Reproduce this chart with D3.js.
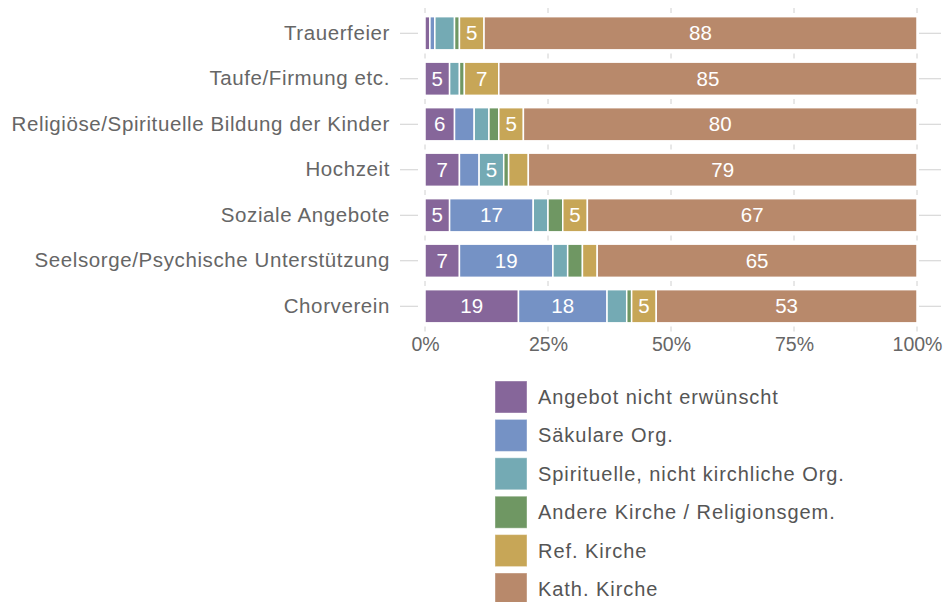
<!DOCTYPE html>
<html><head><meta charset="utf-8">
<script src="https://cdn.jsdelivr.net/npm/d3@7"></script>
<style>body{margin:0;background:#fff}svg{display:block;font-family:"Liberation Sans",Arial,sans-serif}</style>
</head><body>
<svg id="chart" width="946" height="602"></svg>
<script>
const categories = ["Trauerfeier","Taufe/Firmung etc.","Religiöse/Spirituelle Bildung der Kinder","Hochzeit","Soziale Angebote","Seelsorge/Psychische Unterstützung","Chorverein"];
const seriesNames = ["Angebot nicht erwünscht","Säkulare Org.","Spirituelle, nicht kirchliche Org.","Andere Kirche / Religionsgem.","Ref. Kirche","Kath. Kirche"];
const angebotNicht = [1,5,6,7,5,7,19];
const saekulare   = [1,0,4,4,17,19,18];
const spirituelle = [4,2,3,5,3,3,4];
const andere      = [1,1,2,1,3,3,1];
const refKirche   = [5,7,5,4,5,3,5];
const kathKirche  = [88,85,80,79,67,65,53];
const xTicks = [0,25,50,75,100];
const colors = ["#86669a","#7592c5","#74aab4","#6f9763","#c7a657","#b8896b"];

const series = [angebotNicht,saekulare,spirituelle,andere,refKirche,kathKirche];
const rows = categories.map((c,i)=>{const r={cat:c};seriesNames.forEach((s,j)=>r[s]=series[j][i]);return r;});
const stacked = d3.stack().keys(seriesNames)(rows);

const svg = d3.select("#chart");
const x = d3.scaleLinear().domain([0,100]).range([425,917]);
const y = d3.scaleBand().domain(categories).range([10.5,329]).paddingInner(0.27).paddingOuter(0.135);
const color = d3.scaleOrdinal().domain(seriesNames).range(colors);
const grey = "#d0d0d0", textCol = "#666";

// short grid ticks between rows
const bounds = d3.range(categories.length+1).map(i=>y.range()[0]+i*y.step());
const gg = svg.append("g");
xTicks.forEach(t=>bounds.forEach(b=>{
  gg.append("line").attr("x1",x(t)).attr("x2",x(t)).attr("y1",b-2.5).attr("y2",b+2.5).attr("stroke",grey).attr("stroke-width",1);
}));

// y axis (left) and right ticks
const yAxis = d3.axisLeft(y).tickSize(18).tickPadding(10);
const ya = svg.append("g").attr("transform","translate(418,0)").call(yAxis);
ya.select(".domain").remove();
ya.selectAll("line").attr("stroke",grey);
ya.selectAll("text").attr("fill",textCol).style("font-size","20.5px").style("letter-spacing","0.6px").style("font-family","inherit");
const yr = svg.append("g").attr("transform","translate(919,0)").call(d3.axisRight(y).tickSize(22).tickFormat(""));
yr.select(".domain").remove();
yr.selectAll("line").attr("stroke",grey);

// bars
const layer = svg.append("g").selectAll("g").data(stacked).join("g").attr("fill",d=>color(d.key));
layer.selectAll("rect").data(d=>d.map(v=>({v,key:d.key}))).join("rect")
  .attr("x",d=>x(d.v[0])).attr("width",d=>Math.max(0,x(d.v[1])-x(d.v[0])))
  .attr("y",d=>y(d.v.data.cat)).attr("height",y.bandwidth())
  .attr("stroke","#fff").attr("stroke-width",1.5);
layer.selectAll("text").data(d=>d.map(v=>({v,key:d.key})).filter(d=>d.v[1]-d.v[0]>=5)).join("text")
  .attr("x",d=>(x(d.v[0])+x(d.v[1]))/2).attr("y",d=>y(d.v.data.cat)+y.bandwidth()/2)
  .attr("dy","0.35em").attr("text-anchor","middle").attr("fill","#fff").style("font-size","20.5px")
  .text(d=>Math.round(d.v[1]-d.v[0]));

// x axis labels
const xa = svg.append("g").attr("transform","translate(0,333)").call(d3.axisBottom(x).tickValues(xTicks).tickSize(0).tickPadding(4).tickFormat(d=>d+"%"));
xa.select(".domain").remove();
xa.selectAll("text").attr("fill",textCol).style("font-size","19.5px").style("font-family","inherit");

// legend
const leg = svg.append("g").attr("transform","translate(495,381)");
const li = leg.selectAll("g").data(seriesNames).join("g").attr("transform",(d,i)=>`translate(0,${i*38.4})`);
li.append("rect").attr("width",32).attr("height",32).attr("fill",d=>color(d)).attr("stroke","#fff").attr("stroke-opacity",0.4);
li.append("text").attr("x",43).attr("y",16).attr("dy","0.35em").attr("fill","#555").style("font-size","20px").style("letter-spacing","0.95px").text(d=>d);
</script>
</body></html>
